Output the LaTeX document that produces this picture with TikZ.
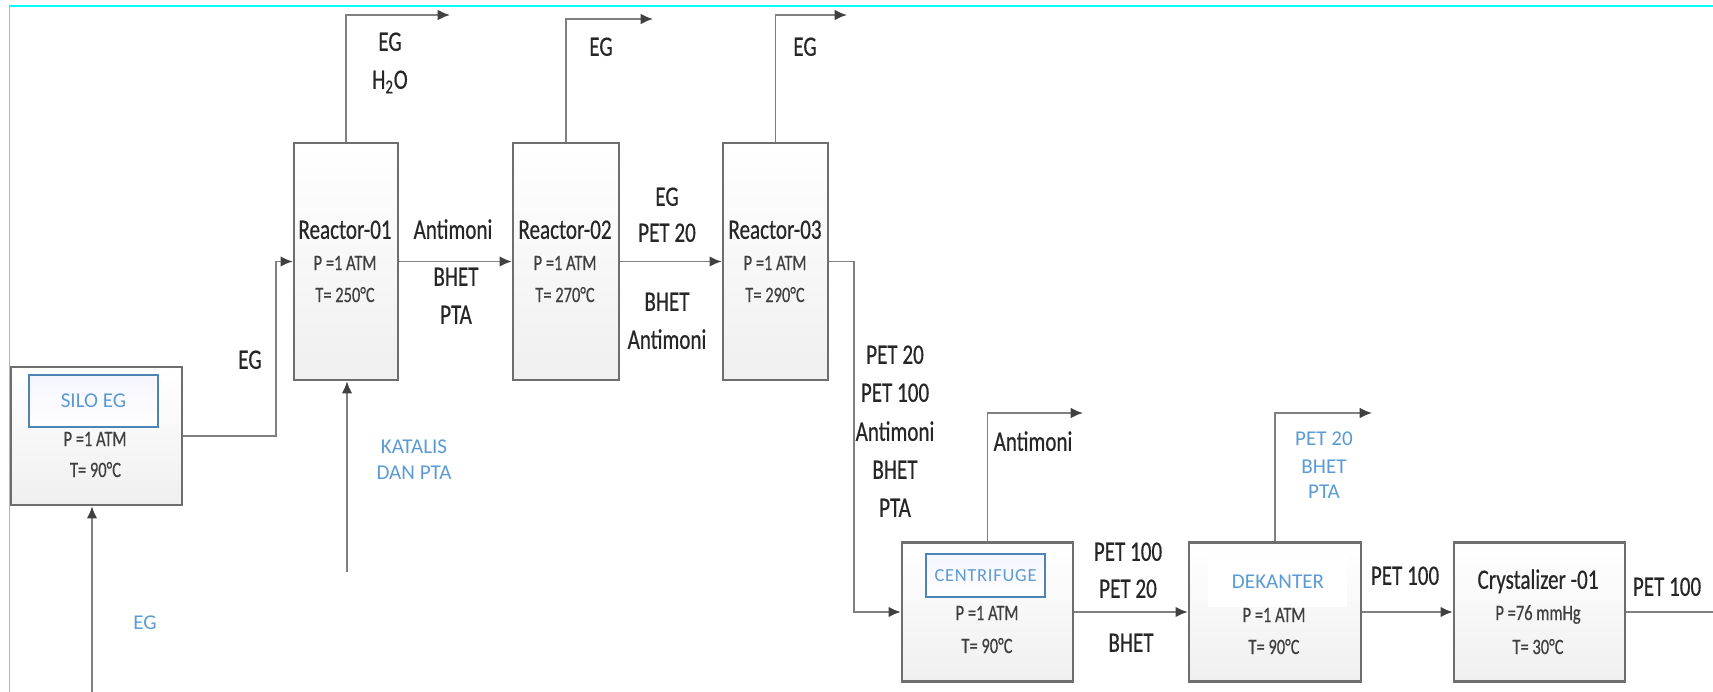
\documentclass[tikz,border=0pt]{standalone}
\usepackage{fontspec}
\setmainfont{Carlito}
\newfontfamily\lblfont[FakeStretch=0.75, FakeBold=0.5]{Carlito}
\usetikzlibrary{arrows.meta}

\definecolor{lineg}{HTML}{808080}
\definecolor{boxg}{HTML}{6E6E6E}
\definecolor{txtb}{HTML}{5B9BD5}
\definecolor{txtk}{HTML}{262626}
\definecolor{frame}{HTML}{00FFFF}

\tikzset{
    unit/.style={draw=boxg, line width=1.3pt, top color=white, bottom color=black!6, inner sep=0pt},
    reactor/.style={unit, minimum width=2.08cm, minimum height=4.74cm},
    vessel/.style={unit, minimum width=3.42cm, minimum height=2.78cm},
    stream/.style={draw=lineg, line width=1.1pt},
    feed/.style={stream, -{Latex[length=7pt, width=6pt, color=black!75]}},
    lbl/.style={font=\lblfont\fontsize{16}{18}\selectfont, text=txtk, inner sep=0pt, text height=10pt, text depth=0pt},
    sub/.style={font=\lblfont\fontsize{12.5}{14}\selectfont, text=black!75, inner sep=0pt, text height=8pt, text depth=0pt},
    note/.style={font=\fontsize{12}{14}\selectfont, text=txtb, inner sep=0pt, text height=7.6pt, text depth=0pt},
    tag/.style={draw=txtb!85!black, line width=0.7pt, top color=blue!4, bottom color=white}
}

\begin{document}
\begin{tikzpicture}[x=0.02cm, y=-0.02cm]

    \useasboundingbox (0,0) rectangle (1713,692);

    %---------------- BINGKAI ----------------
    \draw[frame, line width=0.8pt]
    (9.5,692) -- (9.5,6) -- (1713,6);

    %---------------- SILO ----------------
    \node[vessel, minimum height=2.76cm] (silo) at (96.5,436) {};
    \node[tag, note, minimum width=2.58cm, minimum height=1.04cm] (silot) at (93.5,401) {SILO EG};
    \node[sub] (silop) at (95,439) {P =1 ATM};
    \node[sub] (silot2) at (95.5,470) {T= 90°C};

    %---------------- REAKTOR ----------------
    \node[reactor] (r1) at (346,261.5) {};
    \node[lbl] (r1h) at (345,230) {Reactor-01};
    \node[sub] (r1p) at (345,263) {P =1 ATM};
    \node[sub] (r1t) at (345,295) {T= 250°C};

    \node[reactor, minimum width=2.12cm] (r2) at (566,261.5) {};
    \node[lbl] (r2h) at (565,230) {Reactor-02};
    \node[sub] (r2p) at (565,263) {P =1 ATM};
    \node[sub] (r2t) at (565,295) {T= 270°C};

    \node[reactor, minimum width=2.1cm] (r3) at (775.5,261.5) {};
    \node[lbl] (r3h) at (775,230) {Reactor-03};
    \node[sub] (r3p) at (775,263) {P =1 ATM};
    \node[sub] (r3t) at (775,295) {T= 290°C};

    %---------------- PEMISAH ----------------
    \node[vessel] (cent) at (987.5,612) {};
    \node[tag, minimum width=2.38cm, minimum height=0.86cm,
          font=\addfontfeatures{LetterSpace=4}\fontsize{10.5}{12}\selectfont, text=txtb] (centt) at (985.5,575.5) {CENTRIFUGE};
    \node[sub] (centp) at (987,613) {P =1 ATM};
    \node[sub] (centt2) at (987,646) {T= 90°C};

    \node[vessel, minimum width=3.44cm] (dek) at (1275,612) {};
    \node[fill=white, minimum width=2.78cm, minimum height=1.04cm] (dekw) at (1277.5,581) {};
    \node[note] (dekt) at (1278,582) {DEKANTER};
    \node[sub] (dekp) at (1274,615) {P =1 ATM};
    \node[sub] (dekt2) at (1274,647) {T= 90°C};

    \node[vessel] (cry) at (1539.5,612) {};
    \node[lbl] (cryh) at (1538,580) {Crystalizer -01};
    \node[sub] (cryp) at (1538,613) {P =76 mmHg};
    \node[sub] (cryt) at (1538,647) {T= 30°C};

    %---------------- UJUNG ALIRAN ----------------
    \coordinate (egin) at (92,692);
    \coordinate (katin) at (347,572);
    \coordinate (r1out) at (450,15);
    \coordinate (r2out) at (653,19);
    \coordinate (r3out) at (847,15);
    \coordinate (centout) at (1083,413);
    \coordinate (dekout) at (1372,413);
    \coordinate (cryout) at (1713,612);

    %---------------- ALIRAN ----------------
    \draw[feed] (egin) -- (egin |- silo.south);
    \draw[feed] (silo.east) -- ++(93,0) |- (r1.west);
    \draw[feed] (katin) -- (katin |- r1.south);
    \draw[feed] (r1.north) |- (r1out);
    \draw[feed] (r1.east) -- (r2.west);
    \draw[feed] (r2.north) |- (r2out);
    \draw[feed] (r2.east) -- (r3.west);
    \draw[feed] (r3.north) |- (r3out);
    \draw[feed] (r3.east) -- ++(25,0) |- (cent.west);
    \draw[feed] (cent.north) |- (centout);
    \draw[feed] (cent.east) -- (dek.west);
    \draw[feed] (dek.north) |- (dekout);
    \draw[feed] (dek.east) -- (cry.west);
    \draw[stream] (cry.east) -- (cryout);

    %---------------- LABEL ALIRAN ----------------
    \node[note] (eg0) at (145,623) {EG};
    \node[lbl] (eg1) at (250,360) {EG};
    \node[note] (kat1) at (414,447) {KATALIS};
    \node[note] (kat2) at (414,473) {DAN PTA};

    \node[lbl] (v1a) at (390,42) {EG};
    \node[lbl] (v1b) at (390,80) {H\textsubscript{2}O};
    \node[lbl] (v2a) at (601,47) {EG};
    \node[lbl] (v3a) at (805,47) {EG};

    \node[lbl] (s1a) at (453,230) {Antimoni};
    \node[lbl] (s1b) at (456,277) {BHET};
    \node[lbl] (s1c) at (456,315) {PTA};

    \node[lbl] (s2a) at (667,197) {EG};
    \node[lbl] (s2b) at (667,233) {PET 20};
    \node[lbl] (s2c) at (667,302) {BHET};
    \node[lbl] (s2d) at (667,340) {Antimoni};

    \node[lbl] (s3a) at (895,355) {PET 20};
    \node[lbl] (s3b) at (895,393) {PET 100};
    \node[lbl] (s3c) at (895,432) {Antimoni};
    \node[lbl] (s3d) at (895,470) {BHET};
    \node[lbl] (s3e) at (895,508) {PTA};

    \node[lbl] (v4a) at (1033,442) {Antimoni};

    \node[lbl] (s4a) at (1128,552) {PET 100};
    \node[lbl] (s4b) at (1128,589) {PET 20};
    \node[lbl] (s4c) at (1131,643) {BHET};

    \node[note] (v5a) at (1324,439) {PET 20};
    \node[note] (v5b) at (1324,467) {BHET};
    \node[note] (v5c) at (1324,492) {PTA};

    \node[lbl] (s5a) at (1405,576) {PET 100};
    \node[lbl] (s6a) at (1667,587) {PET 100};

\end{tikzpicture}
\end{document}
